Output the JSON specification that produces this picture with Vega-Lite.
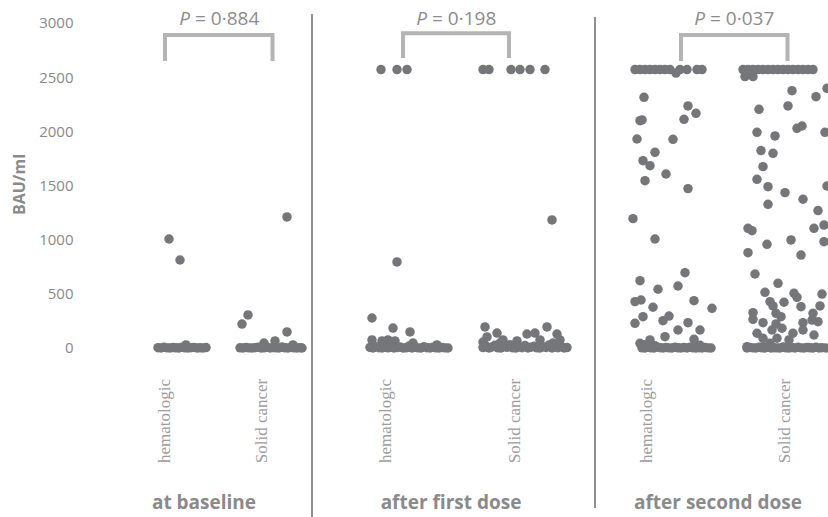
{
  "$schema": "https://vega.github.io/schema/vega-lite/v6.json",
  "autosize": {"type": "none"},
  "padding": {"left": 80, "top": 0, "right": 0, "bottom": 0},
  "width": 748,
  "height": 517,
  "background": "white",
  "config": {"view": {"stroke": null}},
  "datasets": {
    "pts": [
      {"pos":0.78,"bau":3},{"pos":0.81,"bau":0},{"pos":0.84,"bau":6},{"pos":0.87,"bau":1},{"pos":0.90,"bau":0},{"pos":0.93,"bau":4},{"pos":0.96,"bau":2},{"pos":0.99,"bau":0},{"pos":1.02,"bau":7},{"pos":1.05,"bau":1},{"pos":1.08,"bau":0},{"pos":1.11,"bau":3},{"pos":1.14,"bau":5},{"pos":1.17,"bau":0},{"pos":1.20,"bau":2},{"pos":1.23,"bau":0},{"pos":1.26,"bau":4},
      {"pos":1.06,"bau":28},{"pos":0.89,"bau":1006},{"pos":1.00,"bau":812},
      {"pos":1.60,"bau":2},{"pos":1.63,"bau":0},{"pos":1.66,"bau":5},{"pos":1.69,"bau":1},{"pos":1.72,"bau":0},{"pos":1.75,"bau":3},{"pos":1.78,"bau":8},{"pos":1.81,"bau":0},{"pos":1.84,"bau":2},{"pos":1.87,"bau":6},{"pos":1.90,"bau":0},{"pos":1.93,"bau":4},{"pos":1.96,"bau":1},{"pos":1.99,"bau":0},{"pos":2.02,"bau":9},{"pos":2.05,"bau":2},{"pos":2.08,"bau":0},{"pos":2.11,"bau":5},{"pos":2.14,"bau":1},{"pos":2.17,"bau":0},{"pos":2.20,"bau":3},{"pos":2.22,"bau":0},
      {"pos":1.84,"bau":46},{"pos":1.95,"bau":65},{"pos":2.13,"bau":28},{"pos":1.68,"bau":305},{"pos":1.62,"bau":221},{"pos":2.07,"bau":148},{"pos":2.07,"bau":1210},
      {"pos":3.01,"bau":2570},{"pos":3.17,"bau":2570},{"pos":3.27,"bau":2570},{"pos":3.17,"bau":794},
      {"pos":2.92,"bau":277},{"pos":3.13,"bau":184},{"pos":3.30,"bau":148},{"pos":2.92,"bau":74},{"pos":3.02,"bau":65},{"pos":3.08,"bau":74},{"pos":3.15,"bau":65},{"pos":3.33,"bau":46},{"pos":3.57,"bau":28},
      {"pos":2.90,"bau":5},{"pos":2.93,"bau":0},{"pos":2.96,"bau":12},{"pos":2.99,"bau":3},{"pos":3.02,"bau":0},{"pos":3.05,"bau":8},{"pos":3.08,"bau":1},{"pos":3.11,"bau":15},{"pos":3.14,"bau":0},{"pos":3.17,"bau":4},{"pos":3.20,"bau":9},{"pos":3.23,"bau":0},{"pos":3.26,"bau":2},{"pos":3.29,"bau":18},{"pos":3.32,"bau":0},{"pos":3.35,"bau":6},{"pos":3.38,"bau":1},{"pos":3.41,"bau":0},{"pos":3.44,"bau":11},{"pos":3.47,"bau":3},{"pos":3.50,"bau":0},{"pos":3.53,"bau":7},{"pos":3.56,"bau":2},{"pos":3.59,"bau":0},{"pos":3.62,"bau":5},{"pos":3.65,"bau":1},{"pos":3.68,"bau":0},
      {"pos":4.03,"bau":2570},{"pos":4.09,"bau":2570},{"pos":4.31,"bau":2570},{"pos":4.40,"bau":2570},{"pos":4.50,"bau":2570},{"pos":4.65,"bau":2570},{"pos":4.72,"bau":1182},
      {"pos":4.05,"bau":194},{"pos":4.17,"bau":138},{"pos":4.67,"bau":194},{"pos":4.77,"bau":129},{"pos":4.47,"bau":129},{"pos":4.55,"bau":138},{"pos":4.03,"bau":55},{"pos":4.23,"bau":74},{"pos":4.37,"bau":65},{"pos":4.60,"bau":74},{"pos":4.80,"bau":74},{"pos":4.07,"bau":102},{"pos":4.20,"bau":46},{"pos":4.73,"bau":46},
      {"pos":4.03,"bau":4},{"pos":4.06,"bau":18},{"pos":4.09,"bau":0},{"pos":4.12,"bau":9},{"pos":4.15,"bau":25},{"pos":4.18,"bau":2},{"pos":4.21,"bau":0},{"pos":4.24,"bau":14},{"pos":4.27,"bau":6},{"pos":4.30,"bau":30},{"pos":4.33,"bau":1},{"pos":4.36,"bau":0},{"pos":4.39,"bau":11},{"pos":4.42,"bau":3},{"pos":4.45,"bau":22},{"pos":4.48,"bau":0},{"pos":4.51,"bau":7},{"pos":4.54,"bau":16},{"pos":4.57,"bau":2},{"pos":4.60,"bau":0},{"pos":4.63,"bau":12},{"pos":4.66,"bau":5},{"pos":4.69,"bau":27},{"pos":4.72,"bau":0},{"pos":4.75,"bau":8},{"pos":4.78,"bau":3},{"pos":4.81,"bau":15},{"pos":4.84,"bau":0},{"pos":4.87,"bau":4},
      {"pos":5.55,"bau":2570},{"pos":5.60,"bau":2570},{"pos":5.65,"bau":2570},{"pos":5.70,"bau":2570},{"pos":5.75,"bau":2570},{"pos":5.80,"bau":2570},{"pos":5.85,"bau":2570},{"pos":5.90,"bau":2570},{"pos":6.00,"bau":2570},{"pos":6.07,"bau":2570},{"pos":6.17,"bau":2570},{"pos":6.22,"bau":2570},{"pos":5.96,"bau":2538},
      {"pos":5.64,"bau":2314},{"pos":6.08,"bau":2234},{"pos":6.16,"bau":2166},{"pos":5.60,"bau":2098},{"pos":5.62,"bau":2105},{"pos":6.04,"bau":2111},{"pos":5.57,"bau":1929},{"pos":5.93,"bau":1926},{"pos":5.75,"bau":1806},{"pos":5.63,"bau":1729},{"pos":5.70,"bau":1683},{"pos":5.86,"bau":1606},{"pos":5.65,"bau":1544},{"pos":6.08,"bau":1471},{"pos":5.53,"bau":1194},{"pos":5.75,"bau":1006},
      {"pos":6.05,"bau":695},{"pos":5.60,"bau":621},{"pos":5.78,"bau":542},{"pos":5.98,"bau":572},{"pos":6.14,"bau":437},{"pos":5.55,"bau":428},{"pos":5.61,"bau":443},{"pos":5.73,"bau":376},{"pos":6.32,"bau":366},{"pos":5.63,"bau":289},{"pos":5.55,"bau":228},{"pos":5.83,"bau":252},{"pos":5.89,"bau":295},{"pos":6.08,"bau":234},{"pos":5.98,"bau":166},{"pos":6.20,"bau":166},{"pos":6.14,"bau":80},{"pos":5.85,"bau":104},{"pos":5.60,"bau":43},{"pos":5.70,"bau":74},{"pos":5.65,"bau":30},{"pos":5.75,"bau":20},{"pos":6.20,"bau":25},
      {"pos":5.62,"bau":2},{"pos":5.65,"bau":0},{"pos":5.68,"bau":6},{"pos":5.71,"bau":1},{"pos":5.74,"bau":0},{"pos":5.77,"bau":9},{"pos":5.80,"bau":3},{"pos":5.83,"bau":0},{"pos":5.86,"bau":5},{"pos":5.89,"bau":1},{"pos":5.92,"bau":0},{"pos":5.95,"bau":7},{"pos":5.98,"bau":2},{"pos":6.01,"bau":0},{"pos":6.04,"bau":4},{"pos":6.07,"bau":0},{"pos":6.10,"bau":8},{"pos":6.13,"bau":1},{"pos":6.16,"bau":0},{"pos":6.19,"bau":3},{"pos":6.22,"bau":0},{"pos":6.25,"bau":5},{"pos":6.28,"bau":1},{"pos":6.31,"bau":0},
      {"pos":6.63,"bau":2570},{"pos":6.68,"bau":2570},{"pos":6.73,"bau":2570},{"pos":6.78,"bau":2570},{"pos":6.83,"bau":2570},{"pos":6.88,"bau":2570},{"pos":6.93,"bau":2570},{"pos":6.98,"bau":2570},{"pos":7.03,"bau":2570},{"pos":7.08,"bau":2570},{"pos":7.13,"bau":2570},{"pos":7.18,"bau":2570},{"pos":7.23,"bau":2570},{"pos":7.28,"bau":2570},{"pos":7.33,"bau":2570},{"pos":6.65,"bau":2505},{"pos":6.73,"bau":2505},
      {"pos":7.12,"bau":2375},{"pos":7.36,"bau":2320},{"pos":7.47,"bau":2397},{"pos":6.79,"bau":2203},{"pos":7.08,"bau":2234},{"pos":7.17,"bau":2028},{"pos":7.22,"bau":2049},{"pos":6.77,"bau":1991},{"pos":6.95,"bau":1957},{"pos":7.45,"bau":1991},{"pos":6.81,"bau":1822},{"pos":6.93,"bau":1797},{"pos":6.83,"bau":1674},{"pos":6.77,"bau":1557},{"pos":6.88,"bau":1489},{"pos":7.05,"bau":1434},{"pos":7.47,"bau":1495},{"pos":6.88,"bau":1326},{"pos":7.23,"bau":1373},{"pos":7.38,"bau":1268},{"pos":7.34,"bau":1105},{"pos":7.44,"bau":1135},{"pos":6.68,"bau":1105},{"pos":6.72,"bau":1083},{"pos":7.44,"bau":981},{"pos":6.87,"bau":957},{"pos":7.11,"bau":997},{"pos":7.21,"bau":858},{"pos":6.68,"bau":880},
      {"pos":6.75,"bau":683},{"pos":6.98,"bau":597},{"pos":6.85,"bau":514},{"pos":7.14,"bau":505},{"pos":7.17,"bau":468},{"pos":7.42,"bau":498},{"pos":6.90,"bau":428},{"pos":7.04,"bau":422},{"pos":6.93,"bau":388},{"pos":7.21,"bau":381},{"pos":7.40,"bau":388},{"pos":6.73,"bau":326},{"pos":6.96,"bau":320},{"pos":7.01,"bau":289},{"pos":7.33,"bau":320},{"pos":7.32,"bau":258},{"pos":6.73,"bau":265},{"pos":6.83,"bau":234},{"pos":6.96,"bau":222},{"pos":7.23,"bau":234},{"pos":7.38,"bau":243},{"pos":6.92,"bau":166},{"pos":7.02,"bau":182},{"pos":7.13,"bau":136},{"pos":7.23,"bau":166},{"pos":7.34,"bau":120},{"pos":6.77,"bau":136},{"pos":6.83,"bau":90},{"pos":6.97,"bau":90},{"pos":7.09,"bau":74},{"pos":6.90,"bau":43},{"pos":6.67,"bau":12},{"pos":6.83,"bau":12},{"pos":7.10,"bau":12},
      {"pos":6.67,"bau":0},{"pos":6.70,"bau":5},{"pos":6.73,"bau":1},{"pos":6.76,"bau":0},{"pos":6.79,"bau":8},{"pos":6.82,"bau":2},{"pos":6.85,"bau":0},{"pos":6.88,"bau":6},{"pos":6.91,"bau":0},{"pos":6.94,"bau":3},{"pos":6.97,"bau":1},{"pos":7.00,"bau":0},{"pos":7.03,"bau":9},{"pos":7.06,"bau":2},{"pos":7.09,"bau":0},{"pos":7.12,"bau":4},{"pos":7.15,"bau":0},{"pos":7.18,"bau":7},{"pos":7.21,"bau":1},{"pos":7.24,"bau":0},{"pos":7.27,"bau":5},{"pos":7.30,"bau":2},{"pos":7.33,"bau":0},{"pos":7.36,"bau":6},{"pos":7.39,"bau":0},{"pos":7.42,"bau":3},{"pos":7.46,"bau":0}
    ],
    "seps": [
      {"pos": 2.32, "bau": 3083, "bau2": -1560},
      {"pos": 5.15, "bau": 3055, "bau2": -1477}
    ],
    "brk": [
      {"pair":1,"ord":1,"pos":0.85,"bau":2649},{"pair":1,"ord":2,"pos":0.85,"bau":2890},{"pair":1,"ord":3,"pos":1.925,"bau":2890},{"pair":1,"ord":4,"pos":1.925,"bau":2649},
      {"pair":2,"ord":1,"pos":3.23,"bau":2677},{"pair":2,"ord":2,"pos":3.23,"bau":2905},{"pair":2,"ord":3,"pos":4.29,"bau":2905},{"pair":2,"ord":4,"pos":4.29,"bau":2677},
      {"pair":3,"ord":1,"pos":6.01,"bau":2649},{"pair":3,"ord":2,"pos":6.01,"bau":2890},{"pair":3,"ord":3,"pos":7.075,"bau":2890},{"pair":3,"ord":4,"pos":7.075,"bau":2649}
    ],
    "pv": [
      {"pos": 1.39, "bau": 2980, "p": "= 0·884"},
      {"pos": 3.76, "bau": 2980, "p": "= 0·198"},
      {"pos": 6.54, "bau": 2980, "p": "= 0·037"}
    ],
    "cats": [
      {"pos": 0.85, "bau": -674, "name": "hematologic"},
      {"pos": 1.82, "bau": -674, "name": "Solid cancer"},
      {"pos": 3.06, "bau": -674, "name": "hematologic"},
      {"pos": 4.35, "bau": -674, "name": "Solid cancer"},
      {"pos": 5.67, "bau": -674, "name": "hematologic"},
      {"pos": 7.05, "bau": -674, "name": "Solid cancer"}
    ],
    "stages": [
      {"pos": 1.24, "bau": -1490, "name": "at baseline"},
      {"pos": 3.71, "bau": -1490, "name": "after first dose"},
      {"pos": 6.38, "bau": -1490, "name": "after second dose"}
    ]
  },
  "encoding": {
    "x": {"field": "pos", "type": "quantitative", "scale": {"domain": [0, 7.48], "nice": false, "zero": false}, "axis": null},
    "y": {
      "field": "bau", "type": "quantitative",
      "scale": {"domain": [-1560, 3212], "nice": false, "zero": false},
      "axis": {
        "values": [0, 500, 1000, 1500, 2000, 2500, 3000], "format": "d",
        "title": "BAU/ml", "grid": false, "ticks": false, "domain": false,
        "labelPadding": 7, "labelFont": "Open Sans", "labelFontSize": 15, "labelColor": "#898989",
        "titleFont": "Open Sans", "titleFontSize": 16, "titleFontWeight": "bold", "titleColor": "#8a8a8a",
        "titleX": -61, "titleY": 184, "titleBaseline": "middle", "titleAngle": 270
      }
    }
  },
  "layer": [
    {
      "data": {"name": "seps"},
      "mark": {"type": "rule", "color": "#8f8f8f", "strokeWidth": 2},
      "encoding": {"y2": {"field": "bau2"}}
    },
    {
      "data": {"name": "brk"},
      "mark": {"type": "line", "color": "#b4b4b4", "strokeWidth": 4, "strokeCap": "butt", "strokeJoin": "miter"},
      "encoding": {"detail": {"field": "pair"}, "order": {"field": "ord"}}
    },
    {
      "data": {"name": "pts"},
      "mark": {"type": "circle", "size": 90, "color": "#75767a", "opacity": 1, "clip": true}
    },
    {
      "data": {"name": "pv"},
      "mark": {"type": "text", "text": "P", "font": "Open Sans", "fontSize": 19, "fontStyle": "italic", "color": "#8c8c8c", "align": "right", "baseline": "alphabetic", "dx": -29}
    },
    {
      "data": {"name": "pv"},
      "mark": {"type": "text", "font": "Open Sans", "fontSize": 19, "color": "#8c8c8c", "align": "left", "baseline": "alphabetic", "dx": -24},
      "encoding": {"text": {"field": "p"}}
    },
    {
      "data": {"name": "cats"},
      "mark": {"type": "text", "font": "Liberation Serif", "fontSize": 17, "color": "#9d9d9d", "angle": 270, "align": "center", "baseline": "middle"},
      "encoding": {"text": {"field": "name"}}
    },
    {
      "data": {"name": "stages"},
      "mark": {"type": "text", "font": "Open Sans", "fontSize": 19, "fontWeight": "bold", "color": "#8a8a8a", "align": "center", "baseline": "alphabetic"},
      "encoding": {"text": {"field": "name"}}
    }
  ]
}
